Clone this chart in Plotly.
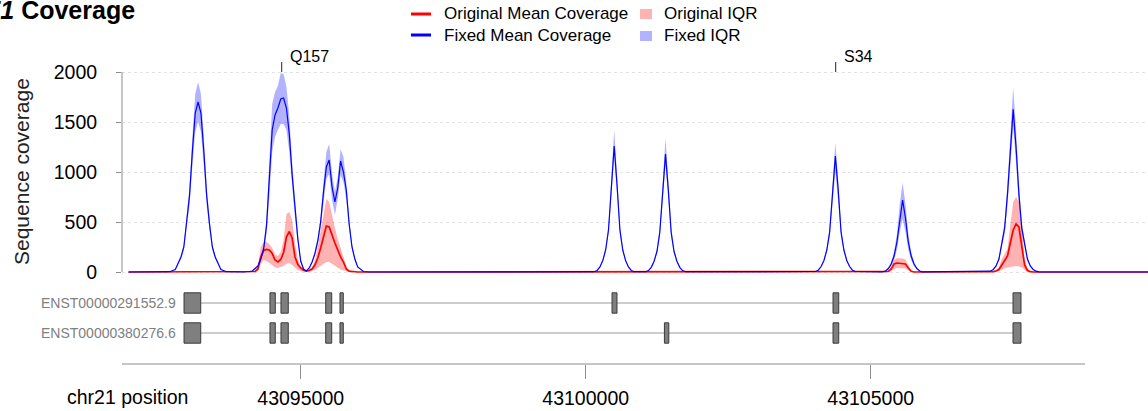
import plotly.graph_objects as go

# ---------------- data ----------------
positions = [
    43091980, 43092500,
    # exon peak 1
    43092600, 43092700, 43092800, 43092900, 43092950, 43093000, 43093050, 43093100, 43093150, 43093200,
    43093250, 43093300, 43093350, 43093400, 43093450, 43093500, 43093600, 43093700, 43093800,
    43094000,
    # exon peaks 2-4
    43094100, 43094150, 43094200, 43094250, 43094300, 43094350, 43094400, 43094450, 43094500, 43094550,
    43094600, 43094650, 43094700, 43094750, 43094800, 43094850, 43094900, 43094950, 43095000, 43095050,
    43095100, 43095150, 43095200, 43095250, 43095300, 43095350, 43095400, 43095450, 43095500, 43095550,
    43095600, 43095650, 43095700, 43095750, 43095800, 43095850, 43095900, 43095950, 43096000,
    43096100, 43096200, 43096300,
    # exon peak 5
    43100150, 43100200, 43100250, 43100300, 43100350, 43100400, 43100450, 43100500, 43100550, 43100600,
    43100650, 43100700, 43100750, 43100800, 43100850,
    # exon peak 6
    43101050, 43101100, 43101150, 43101200, 43101250, 43101300, 43101350, 43101400, 43101450, 43101500,
    43101550, 43101600, 43101650, 43101700, 43101750,
    # exon peak 7 (S34)
    43104030, 43104080, 43104130, 43104180, 43104230, 43104280, 43104330, 43104380, 43104430, 43104480,
    43104530, 43104580, 43104630, 43104680, 43104730,
    # exon peak 8
    43105210, 43105260, 43105310, 43105360, 43105410, 43105460, 43105510, 43105560, 43105610, 43105660,
    43105710, 43105760, 43105810, 43105860, 43105910,
    # exon peak 9
    43107050, 43107100, 43107150, 43107200, 43107250, 43107300, 43107350, 43107400, 43107450, 43107500,
    43107550, 43107600, 43107650, 43107700, 43107750, 43107800, 43107850, 43107900, 43107950,
    43109900,
]

fixed_mean = [
    0, 0,
    0, 3, 25, 150, 250, 480, 765, 1210, 1590, 1700, 1590, 1210, 765, 480, 250, 150, 25, 3, 0,
    0,
    5, 10, 35, 60, 130, 230, 460, 900, 1420, 1570, 1640, 1730, 1740, 1640, 1380, 970, 620, 330, 110, 30, 10,
    40, 100, 185, 310, 500, 800, 1050, 1120, 850, 700, 840, 1110, 1000, 820, 480, 250, 130, 50,
    5, 0, 0,
    3, 15, 50, 115, 220, 420, 870, 1260, 870, 420, 220, 115, 50, 15, 3,
    3, 14, 47, 108, 205, 395, 815, 1180, 815, 395, 205, 108, 47, 14, 3,
    5, 18, 55, 115, 220, 400, 820, 1160, 820, 400, 220, 115, 55, 18, 5,
    2, 10, 35, 80, 160, 300, 540, 720, 540, 300, 160, 80, 35, 10, 2,
    2, 8, 25, 60, 130, 290, 440, 780, 1250, 1627, 1250, 780, 440, 290, 130, 60, 25, 8, 2,
    0,
]

fixed_q1 = [
    0, 0,
    0, 3, 22, 132, 220, 422, 673, 1065, 1400, 1500, 1400, 1065, 673, 422, 220, 132, 22, 3, 0,
    0,
    4, 8, 30, 50, 110, 190, 380, 740, 1200, 1350, 1420, 1480, 1480, 1420, 1200, 840, 540, 290, 95, 25, 6,
    35, 90, 165, 275, 440, 700, 930, 980, 720, 570, 730, 970, 900, 720, 430, 225, 115, 45,
    4, 0, 0,
    3, 14, 45, 105, 200, 380, 780, 1150, 780, 380, 200, 105, 45, 14, 3,
    3, 13, 42, 98, 185, 355, 730, 1070, 730, 355, 185, 98, 42, 13, 3,
    5, 16, 50, 105, 200, 350, 700, 1000, 700, 350, 200, 105, 50, 16, 5,
    2, 8, 28, 60, 120, 220, 400, 530, 400, 220, 120, 60, 28, 8, 2,
    2, 7, 22, 52, 112, 250, 380, 675, 1090, 1450, 1090, 675, 380, 250, 112, 52, 22, 7, 2,
    0,
]

fixed_q3 = [
    0, 0,
    0, 3, 28, 168, 280, 538, 857, 1355, 1780, 1900, 1780, 1355, 857, 538, 280, 168, 28, 3, 0,
    0,
    5, 12, 40, 70, 150, 270, 540, 1060, 1680, 1800, 1860, 1990, 1980, 1850, 1560, 1100, 700, 370, 125, 35, 12,
    45, 110, 205, 345, 560, 900, 1200, 1280, 990, 800, 950, 1230, 1150, 900, 530, 275, 145, 55,
    6, 0, 0,
    3, 16, 55, 125, 245, 470, 975, 1420, 975, 470, 245, 125, 55, 16, 3,
    3, 15, 52, 118, 230, 445, 920, 1335, 920, 445, 230, 118, 52, 15, 3,
    5, 20, 60, 125, 240, 445, 920, 1295, 920, 445, 240, 125, 60, 20, 5,
    2, 12, 42, 100, 200, 380, 680, 893, 680, 380, 200, 100, 42, 12, 2,
    2, 9, 28, 68, 148, 330, 500, 885, 1420, 1847, 1420, 885, 500, 330, 148, 68, 28, 9, 2,
    0,
]

orig_mean = [
    0, 0,
    0, 0, 0, 0, 0, 0, 0, 0, 0, 0, 0, 0, 0, 0, 0, 0, 0, 0, 0,
    0,
    0, 0, 5, 30, 150, 215, 225, 220, 185, 120, 100, 125, 195, 350, 405, 340, 150, 75, 40, 18, 8,
    15, 30, 70, 140, 240, 360, 460, 450, 360, 290, 220, 150, 100, 30, 8, 3, 0, 0,
    0, 0, 0,
    0, 0, 0, 0, 0, 0, 0, 0, 0, 0, 0, 0, 0, 0, 0,
    0, 0, 0, 0, 0, 0, 0, 0, 0, 0, 0, 0, 0, 0, 0,
    0, 0, 0, 0, 0, 0, 0, 0, 0, 0, 0, 0, 0, 0, 0,
    0, 0, 5, 30, 80, 90, 88, 85, 80, 40, 8, 0, 0, 0, 0,
    0, 0, 3, 10, 25, 70, 110, 160, 290, 420, 480, 450, 260, 70, 15, 3, 0, 0, 0,
    0,
]

orig_q1 = [
    0, 0,
    0, 0, 0, 0, 0, 0, 0, 0, 0, 0, 0, 0, 0, 0, 0, 0, 0, 0, 0,
    0,
    0, 0, 0, 10, 80, 120, 110, 90, 70, 45, 40, 50, 60, 80, 90, 70, 40, 20, 10, 5, 2,
    5, 10, 20, 40, 60, 80, 100, 100, 80, 60, 40, 25, 15, 5, 2, 0, 0, 0,
    0, 0, 0,
    0, 0, 0, 0, 0, 0, 0, 0, 0, 0, 0, 0, 0, 0, 0,
    0, 0, 0, 0, 0, 0, 0, 0, 0, 0, 0, 0, 0, 0, 0,
    0, 0, 0, 0, 0, 0, 0, 0, 0, 0, 0, 0, 0, 0, 0,
    0, 0, 0, 10, 30, 40, 40, 40, 35, 15, 3, 0, 0, 0, 0,
    0, 0, 0, 3, 10, 25, 35, 45, 50, 55, 60, 55, 45, 20, 5, 0, 0, 0, 0,
    0,
]

orig_q3 = [
    0, 0,
    0, 0, 0, 0, 0, 0, 0, 0, 0, 0, 0, 0, 0, 0, 0, 0, 0, 0, 0,
    0,
    0, 0, 10, 60, 250, 300, 300, 280, 240, 175, 160, 200, 320, 580, 600, 520, 280, 130, 60, 25, 10,
    25, 50, 120, 250, 420, 600, 730, 700, 560, 440, 330, 230, 150, 60, 15, 5, 0, 0,
    0, 0, 0,
    0, 0, 0, 0, 0, 0, 0, 0, 0, 0, 0, 0, 0, 0, 0,
    0, 0, 0, 0, 0, 0, 0, 0, 0, 0, 0, 0, 0, 0, 0,
    0, 0, 0, 0, 0, 0, 0, 0, 0, 0, 0, 0, 0, 0, 0,
    0, 0, 10, 50, 120, 137, 137, 135, 125, 70, 15, 2, 0, 0, 0,
    0, 0, 5, 20, 50, 130, 180, 230, 470, 700, 750, 700, 450, 130, 40, 10, 2, 0, 0,
    0,
]

x_tick_vals = [43095000, 43100000, 43105000]
x_tick_text = ["43095000", "43100000", "43105000"]
y_tick_vals = [0, 500, 1000, 1500, 2000]

transcript_names = ["ENST00000291552.9", "ENST00000380276.6"]
tx1_starts = [43092953, 43094461, 43094654, 43095439, 43095689, 43100462, 43104339, 43107497]
tx1_ends = [43093246, 43094554, 43094782, 43095544, 43095747, 43100549, 43104439, 43107637]
tx2_starts = [43092953, 43094461, 43094654, 43095439, 43095689, 43101381, 43104339, 43107497]
tx2_ends = [43093246, 43094554, 43094782, 43095544, 43095747, 43101458, 43104439, 43107637]

mutation_labels = ["Q157", "S34"]
mutation_pos = [43094667, 43104386]

legend_labels = ["Original Mean Coverage", "Fixed Mean Coverage", "Original IQR", "Fixed IQR"]

# ---------------- layout helpers ----------------
W, H = 1148, 411
ML = 122
FONT = "Liberation Sans, Arial, Helvetica, sans-serif"
RED = "#ff0000"
BLUE = "#0000ff"
RED_FILL = "rgba(255,0,0,0.30)"
BLUE_FILL = "rgba(0,0,255,0.30)"
AXIS_GRAY = "#8c8c8c"


def px_x(p):
    return (p - ML) / (W - ML)


def px_y(p):
    return 1 - p / H


fig = go.Figure()

# IQR bands
fig.add_trace(go.Scatter(x=positions, y=fixed_q1, mode="lines", line=dict(width=0),
                         showlegend=False, hoverinfo="skip"))
fig.add_trace(go.Scatter(x=positions, y=fixed_q3, mode="lines", line=dict(width=0),
                         fill="tonexty", fillcolor=BLUE_FILL, name="Fixed IQR", showlegend=False))
fig.add_trace(go.Scatter(x=positions, y=orig_q1, mode="lines", line=dict(width=0),
                         showlegend=False, hoverinfo="skip"))
fig.add_trace(go.Scatter(x=positions, y=orig_q3, mode="lines", line=dict(width=0),
                         fill="tonexty", fillcolor=RED_FILL, name="Original IQR", showlegend=False))
# Mean lines
fig.add_trace(go.Scatter(x=positions, y=orig_mean, mode="lines", line=dict(color=RED, width=1.7),
                         name="Original Mean Coverage", showlegend=False))
fig.add_trace(go.Scatter(x=positions, y=fixed_mean, mode="lines", line=dict(color=BLUE, width=1.2),
                         name="Fixed Mean Coverage", showlegend=False))

shapes = []
annotations = []

# y axis line (0..2000)
shapes.append(dict(type="line", xref="paper", yref="y", x0=0, x1=0, y0=y_tick_vals[0], y1=y_tick_vals[-1],
                   line=dict(color=AXIS_GRAY, width=1)))
# x axis line
shapes.append(dict(type="line", xref="paper", yref="paper", x0=0, x1=px_x(1085), y0=px_y(364), y1=px_y(364),
                   line=dict(color=AXIS_GRAY, width=1)))

# transcripts
for row, (name, starts, ends) in enumerate(
        [(transcript_names[0], tx1_starts, tx1_ends), (transcript_names[1], tx2_starts, tx2_ends)], start=1):
    shapes.append(dict(type="line", xref="x", yref="y2", x0=min(starts), x1=max(ends), y0=row, y1=row,
                       line=dict(color="#999999", width=1), layer="above"))
    for s, e in zip(starts, ends):
        shapes.append(dict(type="rect", xref="x", yref="y2", x0=s, x1=e, y0=row - 0.34, y1=row + 0.34,
                           fillcolor="#7f7f7f", line=dict(color="#3a3a3a", width=1), layer="above"))
    annotations.append(dict(text=name, xref="x", yref="y2", x=min(starts), y=row, xanchor="right",
                            yanchor="middle", xshift=-6, showarrow=False,
                            font=dict(size=14, color="#808080", family=FONT)))

# mutation markers
for lab, pos in zip(mutation_labels, mutation_pos):
    shapes.append(dict(type="line", xref="x", yref="y", x0=pos, x1=pos, y0=2000, y1=2100,
                       line=dict(color="#222222", width=1)))
    annotations.append(dict(text=lab, xref="x", yref="y", x=pos, y=2155, xanchor="left", yanchor="middle",
                            xshift=6, showarrow=False, font=dict(size=16, color="black", family=FONT)))

# legend (drawn manually)
shapes.append(dict(type="line", xref="paper", yref="paper", x0=px_x(411), x1=px_x(431), y0=px_y(14), y1=px_y(14),
                   line=dict(color=RED, width=3)))
shapes.append(dict(type="line", xref="paper", yref="paper", x0=px_x(411), x1=px_x(431), y0=px_y(35), y1=px_y(35),
                   line=dict(color=BLUE, width=3)))
shapes.append(dict(type="rect", xref="paper", yref="paper", x0=px_x(640), x1=px_x(652), y0=px_y(19), y1=px_y(9),
                   fillcolor=RED_FILL, line=dict(width=0)))
shapes.append(dict(type="rect", xref="paper", yref="paper", x0=px_x(640), x1=px_x(652), y0=px_y(41), y1=px_y(31),
                   fillcolor=BLUE_FILL, line=dict(width=0)))
for lab, lx, ly in zip(legend_labels, [443, 443, 663, 663], [14, 35, 14, 35]):
    annotations.append(dict(text=lab, xref="paper", yref="paper", x=px_x(lx), y=px_y(ly), xanchor="left",
                            yanchor="middle", showarrow=False, xshift=-1,
                            font=dict(size=17, color="black", family=FONT)))

# title (partly cut off at the left edge, as in the reference)
annotations.append(dict(text="<b><i>U2AF1</i> Coverage</b>", xref="paper", yref="paper", x=px_x(137),
                        y=px_y(10), xanchor="right", yanchor="middle", showarrow=False,
                        font=dict(size=25, color="black", family=FONT)))
# y axis title
annotations.append(dict(text="Sequence coverage", xref="paper", yref="y", x=px_x(21), y=1000, textangle=-90,
                        xanchor="center", yanchor="middle", showarrow=False,
                        font=dict(size=21, color="#222222", family=FONT)))
# x axis title
annotations.append(dict(text="chr21 position", xref="paper", yref="paper", x=px_x(190), y=px_y(397),
                        xanchor="right", yanchor="middle", showarrow=False,
                        font=dict(size=19.5, color="black", family=FONT)))

fig.update_layout(
    width=W, height=H,
    margin=dict(l=ML, r=0, t=0, b=0, autoexpand=False),
    paper_bgcolor="white", plot_bgcolor="white",
    showlegend=False,
    font=dict(family=FONT, color="black"),
    xaxis=dict(range=[43091865, 43109865], anchor="free", position=px_y(364), domain=[0, 1],
               tickvals=x_tick_vals, ticktext=x_tick_text, ticks="outside", ticklen=14,
               tickcolor=AXIS_GRAY, tickwidth=1, showline=False, showgrid=False, zeroline=False,
               tickfont=dict(size=19.5, color="black"), ticklabelstandoff=3),
    yaxis=dict(domain=[px_y(280), px_y(40)], range=[-80, 2320], anchor="x",
               tickvals=y_tick_vals, ticks="outside", ticklen=5, tickcolor=AXIS_GRAY, tickwidth=1,
               showgrid=True, gridcolor="#e2e2e2", griddash="dot", gridwidth=1,
               zeroline=False, showline=False, tickfont=dict(size=19.5, color="black"),
               ticklabelstandoff=15),
    yaxis2=dict(domain=[px_y(348), px_y(288)], range=[2.5, 0.5], anchor="x", visible=False),
    shapes=shapes,
    annotations=annotations,
)

fig.write_html("out.html", config={"displayModeBar": False},
               post_script="document.body.style.margin='0px';document.body.style.overflow='hidden';")
